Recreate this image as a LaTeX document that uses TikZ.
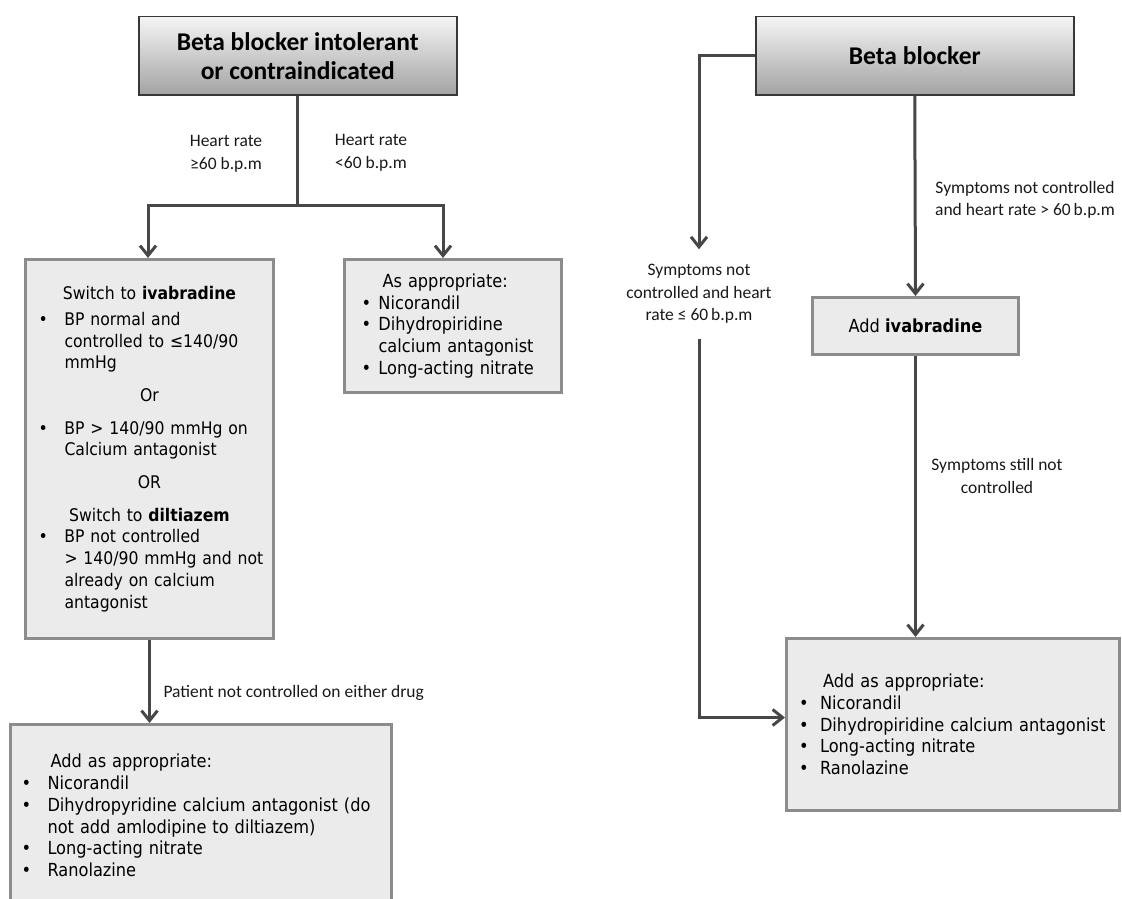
\documentclass[tikz,border=0pt]{standalone}
\usepackage{fontspec}
\setmainfont[FakeStretch=0.9]{DejaVu Sans}
\newfontfamily\carlito{Carlito}
\usetikzlibrary{arrows.meta}
\hfuzz=12pt
\newcommand{\boxfont}{\fontsize{18pt}{21.7pt}\selectfont}
\newcommand{\tightfont}{\fontsize{17.4pt}{21.7pt}\selectfont}
\newcommand{\headfont}{\carlito\bfseries\fontsize{25.5pt}{29pt}\selectfont}
\newcommand{\lblfont}{\carlito\fontsize{17.5pt}{22.5pt}\selectfont}
\newcommand{\bl}[1]{\makebox[#1][l]{\textbullet}}
\newcommand{\ind}[1]{\hspace*{#1}}
\newcommand{\ctr}[1]{\makebox[\hsize][c]{#1}}
\begin{document}
\begin{tikzpicture}[x=1pt,y=-1pt,>={Straight Barb[length=10pt,width=16pt]},
    headbox/.style={draw=black!78,line width=1.5pt,top color=black!4,bottom color=black!36,
      anchor=north west,align=center,font=\headfont,inner sep=0pt},
    greybox/.style={draw=black!45,line width=3pt,fill=black!8,anchor=north west,
      align=left,font=\boxfont,inner ysep=0pt},
    lbl/.style={font=\lblfont,align=center,text=black!90},
    conn/.style={draw=black!72,line width=3pt}]
  \useasboundingbox (0,0) rectangle (1122,899);
  \clip (0,0) rectangle (1122,899);
  \node[headbox,minimum width=318pt,minimum height=78pt] (bbi) at (138,16) {Beta blocker intolerant\\or contraindicated};
  \node[headbox,minimum width=318pt,minimum height=78pt] (bb) at (755,16) {Beta blocker};
  \node[greybox,font=\tightfont,minimum width=248pt,minimum height=379pt,inner xsep=13pt,text width=222pt] (ivd) at (24,258) {%
    \ctr{Switch to \textbf{ivabradine}}\\[4pt]
    \bl{26pt}BP normal and\\
    \ind{26pt}controlled to ≤140/90\\
    \ind{26pt}mmHg\\[11pt]
    \ctr{Or}\\[11pt]
    \bl{26pt}BP > 140/90 mmHg on\\
    \ind{26pt}Calcium antagonist\\[11pt]
    \ctr{OR}\\[11pt]
    \ctr{Switch to \textbf{diltiazem}}\\
    \bl{26pt}BP not controlled\\
    \ind{26pt}\mbox{> 140/90 mmHg and not}\\
    \ind{26pt}already on calcium\\
    \ind{26pt}antagonist};
  \node[greybox,minimum width=217pt,minimum height=133pt,inner xsep=17pt,text width=183pt] (asap) at (343,258) {%
    \ind{21pt}As appropriate:\\
    \bl{17pt}Nicorandil\\
    \bl{17pt}Dihydropiridine\\
    \ind{17pt}calcium antagonist\\
    \bl{17pt}Long-acting nitrate};
  \node[greybox,minimum width=381pt,minimum height=182pt,inner xsep=11pt,text width=359pt] (addl) at (9,723) {%
    \ind{29pt}Add as appropriate:\\
    \bl{26pt}Nicorandil\\
    \bl{26pt}Dihydropyridine calcium antagonist (do\\
    \ind{26pt}not add amlodipine to diltiazem)\\
    \bl{26pt}Long-acting nitrate\\
    \bl{26pt}Ranolazine};
  \node[greybox,minimum width=206pt,minimum height=57pt,align=center] (ivab) at (811,296) {Add \textbf{ivabradine}};
  \node[greybox,minimum width=333pt,minimum height=172pt,inner xsep=12.5pt,text width=308pt] (addr) at (785,637) {%
    \ind{24pt}Add as appropriate:\\
    \bl{21pt}Nicorandil\\
    \bl{21pt}Dihydropiridine calcium antagonist\\
    \bl{21pt}Long-acting nitrate\\
    \bl{21pt}Ranolazine};
  \node[lbl] (hrge) at (226,154) {Heart rate\\≥60 b.p.m};
  \node[lbl] (hrlt) at (371,153) {Heart rate\\<60 b.p.m};
  \node[lbl,anchor=west] (pat) at (160,693) {Patient not controlled on either drug};
  \node[lbl,inner ysep=15pt] (sym1) at (699,294) {Symptoms not\\controlled and heart\\rate ≤ 60\,b.p.m};
  \node[lbl] (sym2) at (1025,200) {Symptoms not controlled\\and heart rate > 60\,b.p.m};
  \node[lbl] (sym3) at (997,476) {Symptoms still not\\controlled};
  \coordinate (jl) at (148,205);
  \coordinate (jr) at (443,205);
  \draw[conn,->] (bbi.south) |- (jl) -- (jl |- ivd.north);
  \draw[conn,->] (bbi.south) |- (jr) -- (jr |- asap.north);
  \draw[conn,->] (ivd.south) -- (ivd.south |- addl.north);
  \draw[conn,->] (bb.west) -| (sym1.north);
  \draw[conn,->] (sym1.south) |- ([yshift=7pt]addr.west);
  \draw[conn,->] (bb.south) -- (ivab.north);
  \draw[conn,->] (ivab.south) -- (ivab.south |- addr.north);
\end{tikzpicture}
\end{document}
